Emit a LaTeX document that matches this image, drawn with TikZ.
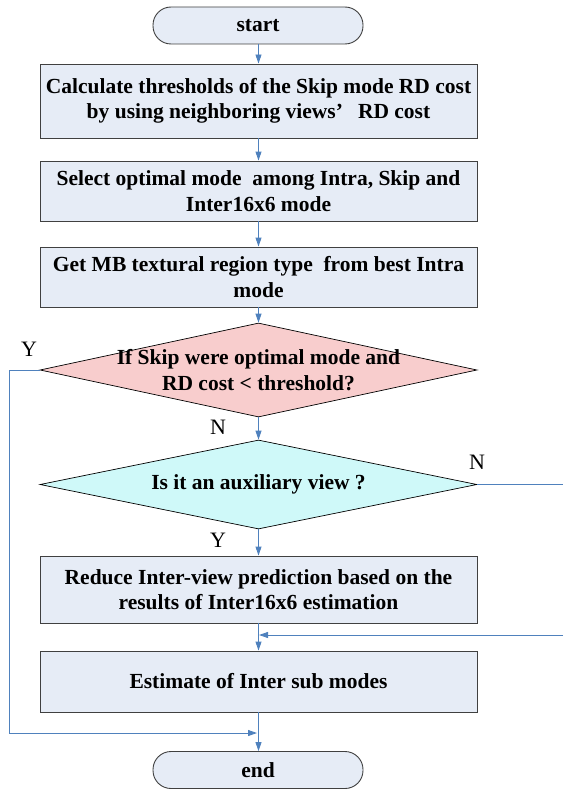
\documentclass[tikz,border=0pt]{standalone}
\usepackage{fontspec}
\setmainfont{Liberation Serif}
\usetikzlibrary{arrows.meta,shapes.geometric}
\definecolor{boxfill}{HTML}{E6ECF6}
\definecolor{pinkfill}{HTML}{F8CDCD}
\definecolor{cyanfill}{HTML}{CFF9F9}
\definecolor{linkblue}{HTML}{4F81BD}
\definecolor{edge}{HTML}{404040}
\begin{document}
\begin{tikzpicture}[x=1pt,y=-1pt,
  box/.style={draw=edge, fill=boxfill, line width=0.9pt, minimum width=437pt, inner sep=0pt,
    align=center, font=\bfseries\fontsize{21.5}{25.5}\selectfont},
  term/.style={box, rounded corners=18pt, minimum width=210pt, minimum height=37pt},
  dia/.style={diamond, draw=black, line width=0.7pt, minimum width=437pt, inner sep=0pt},
  diatext/.style={align=center, font=\bfseries\fontsize{21.5}{25.5}\selectfont, inner sep=0pt},
  link/.style={draw=linkblue, line width=0.9pt, -{Triangle[length=9pt,width=6pt]}},
  plainlink/.style={draw=linkblue, line width=0.9pt},
  yn/.style={font=\fontsize{22}{22}\selectfont, inner sep=0pt}]
\useasboundingbox (0,0) rectangle (563,789);

\node[term] (start) at (258,25.5) {start};
\node[box, minimum height=74pt] (b1) at (258.5,101) {Calculate thresholds of the Skip mode RD cost\\by using neighboring views’\hspace{0.7em}RD cost};
\node[box, minimum height=60pt] (b2) at (258.5,191) {Select optimal mode\ \ among Intra, Skip and\\Inter16x6 mode};
\node[box, minimum height=60pt] (b3) at (258.5,277) {Get MB textural region type\ \ from best Intra\\mode};
\node[dia, fill=pinkfill, minimum height=94pt] (d1) at (258.5,370) {};
\node[diatext] (t1) at (d1.center) {If Skip were optimal mode and\\RD cost < threshold?};
\node[dia, fill=cyanfill, minimum height=89pt] (d2) at (258.5,484.5) {};
\node[diatext] (t2) at (d2.center) {Is it an auxiliary view ?};
\node[box, minimum height=67pt] (b4) at (258.5,589.5) {Reduce Inter-view prediction based on the\\results of Inter16x6 estimation};
\node[box, minimum height=61pt] (b5) at (258.5,681.5) {Estimate of Inter sub modes};
\node[term] (end) at (258,770) {end};

\node[yn] (y1) at (29,349) {Y};
\node[yn] (n1) at (218,427) {N};
\node[yn] (n2) at (477,462) {N};
\node[yn] (y2) at (218,540) {Y};

\coordinate (lc) at (9,733);
\coordinate (lt) at (257,733);
\coordinate (re1) at (563,484.5);
\coordinate (re2) at (563,635);
\coordinate (rt) at (259,635);

\draw[link] (start.south -| b1.north) -- (b1.north);
\draw[link] (b1) -- (b2);
\draw[link] (b2) -- (b3);
\draw[link] (b3) -- (d1.north);
\draw[link] (d1.south) -- (d2.north);
\draw[link] (d2.south) -- (b4.north);
\draw[link] (b4) -- (b5);
\draw[link] (b5.south) -- (end.north -| b5.south);
\draw[link] (d1.west) -| (lc) -- (lt);
\draw[plainlink] (d2.east) -- (re1);
\draw[link] (re2) -- (rt);
\end{tikzpicture}
\end{document}
